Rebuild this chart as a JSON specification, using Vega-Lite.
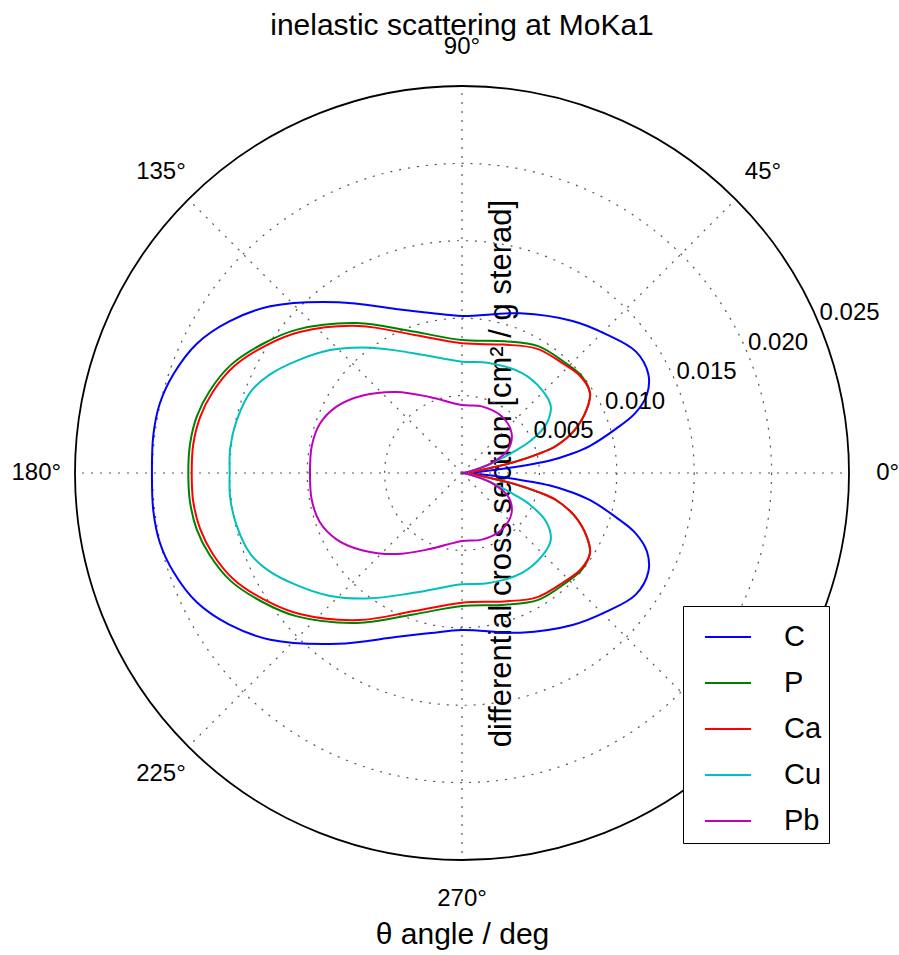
{
  "$schema": "https://vega.github.io/schema/vega-lite/v6.json",
  "width": 774,
  "height": 774,
  "autosize": "none",
  "padding": {"left": 75, "top": 86, "right": 50, "bottom": 95},
  "background": "white",
  "config": {
    "view": {"stroke": null},
    "font": "Liberation Sans",
    "text": {"font": "Liberation Sans", "color": "black"},
    "axis": {
      "domain": false, "ticks": false, "labels": false, "grid": false,
      "titleFontSize": 30, "titleFontWeight": "normal", "titleFont": "Liberation Sans", "titleColor": "black",
      "titleAlign": "center", "titleBaseline": "alphabetic"
    },
    "axisX": {"titleX": 387, "titleY": 83},
    "axisY": {"titleAngle": -90, "titleX": 435, "titleY": 387, "titleFontSize": 31}
  },
  "title": {
    "text": "inelastic scattering at MoKa1",
    "fontSize": 30,
    "fontWeight": "normal",
    "font": "Liberation Sans",
    "color": "black",
    "anchor": "middle",
    "baseline": "alphabetic",
    "offset": 0,
    "dy": 30
  },
  "datasets": {
    "curves": [
      {"el": "C", "t": 0, "r": 0}, {"el": "C", "t": 2, "r": 0.00032}, {"el": "C", "t": 4, "r": 0.00116}, {"el": "C", "t": 6, "r": 0.00291},
      {"el": "C", "t": 8, "r": 0.00568}, {"el": "C", "t": 10, "r": 0.00724}, {"el": "C", "t": 12, "r": 0.00846}, {"el": "C", "t": 16, "r": 0.01034},
      {"el": "C", "t": 19, "r": 0.01182}, {"el": "C", "t": 23, "r": 0.01298}, {"el": "C", "t": 28, "r": 0.01363}, {"el": "C", "t": 35, "r": 0.0137},
      {"el": "C", "t": 44, "r": 0.01292}, {"el": "C", "t": 54, "r": 0.01214}, {"el": "C", "t": 70, "r": 0.01098}, {"el": "C", "t": 90, "r": 0.01014},
      {"el": "C", "t": 101, "r": 0.01053}, {"el": "C", "t": 112, "r": 0.01143}, {"el": "C", "t": 126, "r": 0.01363}, {"el": "C", "t": 139, "r": 0.01641},
      {"el": "C", "t": 147, "r": 0.01796}, {"el": "C", "t": 154, "r": 0.01906}, {"el": "C", "t": 161, "r": 0.0197}, {"el": "C", "t": 167, "r": 0.02003},
      {"el": "C", "t": 173, "r": 0.02009}, {"el": "C", "t": 180, "r": 0.02003},
      {"el": "C", "t": 187, "r": 0.02009}, {"el": "C", "t": 193, "r": 0.02003}, {"el": "C", "t": 199, "r": 0.0197}, {"el": "C", "t": 206, "r": 0.01906},
      {"el": "C", "t": 213, "r": 0.01796}, {"el": "C", "t": 221, "r": 0.01641}, {"el": "C", "t": 234, "r": 0.01363}, {"el": "C", "t": 248, "r": 0.01143},
      {"el": "C", "t": 259, "r": 0.01053}, {"el": "C", "t": 270, "r": 0.01014}, {"el": "C", "t": 290, "r": 0.01098}, {"el": "C", "t": 306, "r": 0.01214},
      {"el": "C", "t": 316, "r": 0.01292}, {"el": "C", "t": 325, "r": 0.0137}, {"el": "C", "t": 332, "r": 0.01363}, {"el": "C", "t": 337, "r": 0.01298},
      {"el": "C", "t": 341, "r": 0.01182}, {"el": "C", "t": 344, "r": 0.01034}, {"el": "C", "t": 348, "r": 0.00846}, {"el": "C", "t": 350, "r": 0.00724},
      {"el": "C", "t": 352, "r": 0.00568}, {"el": "C", "t": 354, "r": 0.00291}, {"el": "C", "t": 356, "r": 0.00116}, {"el": "C", "t": 358, "r": 0.00032},
      {"el": "C", "t": 360, "r": 0},

      {"el": "P", "t": 0, "r": 0}, {"el": "P", "t": 4, "r": 0.00026}, {"el": "P", "t": 8, "r": 0.00097}, {"el": "P", "t": 10, "r": 0.00181},
      {"el": "P", "t": 12, "r": 0.00355}, {"el": "P", "t": 14, "r": 0.00504}, {"el": "P", "t": 16, "r": 0.00627}, {"el": "P", "t": 21, "r": 0.00782},
      {"el": "P", "t": 27, "r": 0.00904}, {"el": "P", "t": 32, "r": 0.00975}, {"el": "P", "t": 39, "r": 0.00995}, {"el": "P", "t": 47, "r": 0.00975},
      {"el": "P", "t": 59, "r": 0.00956}, {"el": "P", "t": 72, "r": 0.00895}, {"el": "P", "t": 90, "r": 0.00859}, {"el": "P", "t": 109, "r": 0.00966},
      {"el": "P", "t": 125, "r": 0.01182}, {"el": "P", "t": 139, "r": 0.01412}, {"el": "P", "t": 147, "r": 0.01533}, {"el": "P", "t": 155, "r": 0.01649},
      {"el": "P", "t": 162, "r": 0.01714}, {"el": "P", "t": 168, "r": 0.01752}, {"el": "P", "t": 174, "r": 0.01767}, {"el": "P", "t": 180, "r": 0.01768},
      {"el": "P", "t": 186, "r": 0.01767}, {"el": "P", "t": 192, "r": 0.01752}, {"el": "P", "t": 198, "r": 0.01714}, {"el": "P", "t": 205, "r": 0.01649},
      {"el": "P", "t": 213, "r": 0.01533}, {"el": "P", "t": 221, "r": 0.01412}, {"el": "P", "t": 235, "r": 0.01182}, {"el": "P", "t": 251, "r": 0.00966},
      {"el": "P", "t": 270, "r": 0.00859}, {"el": "P", "t": 288, "r": 0.00895}, {"el": "P", "t": 301, "r": 0.00956}, {"el": "P", "t": 313, "r": 0.00975},
      {"el": "P", "t": 321, "r": 0.00995}, {"el": "P", "t": 328, "r": 0.00975}, {"el": "P", "t": 333, "r": 0.00904}, {"el": "P", "t": 339, "r": 0.00782},
      {"el": "P", "t": 344, "r": 0.00627}, {"el": "P", "t": 346, "r": 0.00504}, {"el": "P", "t": 348, "r": 0.00355}, {"el": "P", "t": 350, "r": 0.00181},
      {"el": "P", "t": 352, "r": 0.00097}, {"el": "P", "t": 356, "r": 0.00026}, {"el": "P", "t": 360, "r": 0},

      {"el": "Ca", "t": 0, "r": 0}, {"el": "Ca", "t": 4, "r": 0.00026}, {"el": "Ca", "t": 8, "r": 0.00097}, {"el": "Ca", "t": 10, "r": 0.00181},
      {"el": "Ca", "t": 12, "r": 0.00362}, {"el": "Ca", "t": 14, "r": 0.0051}, {"el": "Ca", "t": 16, "r": 0.00633}, {"el": "Ca", "t": 21, "r": 0.00782},
      {"el": "Ca", "t": 27, "r": 0.00904}, {"el": "Ca", "t": 32, "r": 0.00975}, {"el": "Ca", "t": 39, "r": 0.00988}, {"el": "Ca", "t": 47, "r": 0.00963},
      {"el": "Ca", "t": 59, "r": 0.00937}, {"el": "Ca", "t": 72, "r": 0.00872}, {"el": "Ca", "t": 90, "r": 0.00838}, {"el": "Ca", "t": 109, "r": 0.00943},
      {"el": "Ca", "t": 125, "r": 0.0116}, {"el": "Ca", "t": 139, "r": 0.01389}, {"el": "Ca", "t": 147, "r": 0.01512}, {"el": "Ca", "t": 155, "r": 0.01627},
      {"el": "Ca", "t": 162, "r": 0.01693}, {"el": "Ca", "t": 168, "r": 0.0173}, {"el": "Ca", "t": 174, "r": 0.01746}, {"el": "Ca", "t": 180, "r": 0.01746},
      {"el": "Ca", "t": 186, "r": 0.01746}, {"el": "Ca", "t": 192, "r": 0.0173}, {"el": "Ca", "t": 198, "r": 0.01693}, {"el": "Ca", "t": 205, "r": 0.01627},
      {"el": "Ca", "t": 213, "r": 0.01512}, {"el": "Ca", "t": 221, "r": 0.01389}, {"el": "Ca", "t": 235, "r": 0.0116}, {"el": "Ca", "t": 251, "r": 0.00943},
      {"el": "Ca", "t": 270, "r": 0.00838}, {"el": "Ca", "t": 288, "r": 0.00872}, {"el": "Ca", "t": 301, "r": 0.00937}, {"el": "Ca", "t": 313, "r": 0.00963},
      {"el": "Ca", "t": 321, "r": 0.00988}, {"el": "Ca", "t": 328, "r": 0.00975}, {"el": "Ca", "t": 333, "r": 0.00904}, {"el": "Ca", "t": 339, "r": 0.00782},
      {"el": "Ca", "t": 344, "r": 0.00633}, {"el": "Ca", "t": 346, "r": 0.0051}, {"el": "Ca", "t": 348, "r": 0.00362}, {"el": "Ca", "t": 350, "r": 0.00181},
      {"el": "Ca", "t": 352, "r": 0.00097}, {"el": "Ca", "t": 356, "r": 0.00026}, {"el": "Ca", "t": 360, "r": 0},

      {"el": "Cu", "t": 0, "r": 0}, {"el": "Cu", "t": 5, "r": 0.00006}, {"el": "Cu", "t": 10, "r": 0.00032}, {"el": "Cu", "t": 14, "r": 0.00084},
      {"el": "Cu", "t": 17.5, "r": 0.00178}, {"el": "Cu", "t": 20, "r": 0.00258}, {"el": "Cu", "t": 22.5, "r": 0.00368}, {"el": "Cu", "t": 25, "r": 0.00484},
      {"el": "Cu", "t": 30, "r": 0.00627}, {"el": "Cu", "t": 37, "r": 0.00718}, {"el": "Cu", "t": 46, "r": 0.00745}, {"el": "Cu", "t": 59, "r": 0.00753},
      {"el": "Cu", "t": 77, "r": 0.00731}, {"el": "Cu", "t": 90, "r": 0.00719}, {"el": "Cu", "t": 112, "r": 0.00835}, {"el": "Cu", "t": 126, "r": 0.01001},
      {"el": "Cu", "t": 137, "r": 0.01165}, {"el": "Cu", "t": 146, "r": 0.01293}, {"el": "Cu", "t": 153, "r": 0.01397}, {"el": "Cu", "t": 159, "r": 0.01463},
      {"el": "Cu", "t": 167, "r": 0.01495}, {"el": "Cu", "t": 174, "r": 0.01506}, {"el": "Cu", "t": 180, "r": 0.01501},
      {"el": "Cu", "t": 186, "r": 0.01506}, {"el": "Cu", "t": 193, "r": 0.01495}, {"el": "Cu", "t": 201, "r": 0.01463}, {"el": "Cu", "t": 207, "r": 0.01397},
      {"el": "Cu", "t": 214, "r": 0.01293}, {"el": "Cu", "t": 223, "r": 0.01165}, {"el": "Cu", "t": 234, "r": 0.01001}, {"el": "Cu", "t": 248, "r": 0.00835},
      {"el": "Cu", "t": 270, "r": 0.00719}, {"el": "Cu", "t": 283, "r": 0.00731}, {"el": "Cu", "t": 301, "r": 0.00753}, {"el": "Cu", "t": 314, "r": 0.00745},
      {"el": "Cu", "t": 323, "r": 0.00718}, {"el": "Cu", "t": 330, "r": 0.00627}, {"el": "Cu", "t": 335, "r": 0.00484}, {"el": "Cu", "t": 337.5, "r": 0.00368},
      {"el": "Cu", "t": 340, "r": 0.00258}, {"el": "Cu", "t": 342.5, "r": 0.00178}, {"el": "Cu", "t": 346, "r": 0.00084}, {"el": "Cu", "t": 350, "r": 0.00032},
      {"el": "Cu", "t": 355, "r": 0.00006}, {"el": "Cu", "t": 360, "r": 0},

      {"el": "Pb", "t": 0, "r": 0}, {"el": "Pb", "t": 5, "r": 0.00006}, {"el": "Pb", "t": 10, "r": 0.00032}, {"el": "Pb", "t": 14, "r": 0.00089},
      {"el": "Pb", "t": 18.6, "r": 0.00202}, {"el": "Pb", "t": 27, "r": 0.00335}, {"el": "Pb", "t": 39, "r": 0.00412}, {"el": "Pb", "t": 55, "r": 0.00447},
      {"el": "Pb", "t": 73.5, "r": 0.00449}, {"el": "Pb", "t": 90, "r": 0.00439}, {"el": "Pb", "t": 113, "r": 0.00534}, {"el": "Pb", "t": 129, "r": 0.00674},
      {"el": "Pb", "t": 142, "r": 0.00813}, {"el": "Pb", "t": 152, "r": 0.00916}, {"el": "Pb", "t": 161, "r": 0.00972}, {"el": "Pb", "t": 170, "r": 0.00986},
      {"el": "Pb", "t": 180, "r": 0.00982},
      {"el": "Pb", "t": 190, "r": 0.00986}, {"el": "Pb", "t": 199, "r": 0.00972}, {"el": "Pb", "t": 208, "r": 0.00916}, {"el": "Pb", "t": 218, "r": 0.00813},
      {"el": "Pb", "t": 231, "r": 0.00674}, {"el": "Pb", "t": 247, "r": 0.00534}, {"el": "Pb", "t": 270, "r": 0.00439}, {"el": "Pb", "t": 286.5, "r": 0.00449},
      {"el": "Pb", "t": 305, "r": 0.00447}, {"el": "Pb", "t": 321, "r": 0.00412}, {"el": "Pb", "t": 333, "r": 0.00335}, {"el": "Pb", "t": 341.4, "r": 0.00202},
      {"el": "Pb", "t": 346, "r": 0.00089}, {"el": "Pb", "t": 350, "r": 0.00032}, {"el": "Pb", "t": 355, "r": 0.00006}, {"el": "Pb", "t": 360, "r": 0}
    ],
    "rings": [{"g": 0.005}, {"g": 0.01}, {"g": 0.015}, {"g": 0.02}],
    "spokes": [
      {"a": 0, "rr": 0}, {"a": 0, "rr": 0.025}, {"a": 45, "rr": 0}, {"a": 45, "rr": 0.025},
      {"a": 90, "rr": 0}, {"a": 90, "rr": 0.025}, {"a": 135, "rr": 0}, {"a": 135, "rr": 0.025},
      {"a": 180, "rr": 0}, {"a": 180, "rr": 0.025}, {"a": 225, "rr": 0}, {"a": 225, "rr": 0.025},
      {"a": 270, "rr": 0}, {"a": 270, "rr": 0.025}, {"a": 315, "rr": 0}, {"a": 315, "rr": 0.025}
    ],
    "angleLabels": [
      {"a": 0, "lab": "0°"}, {"a": 45, "lab": "45°"}, {"a": 90, "lab": "90°"}, {"a": 135, "lab": "135°"},
      {"a": 180, "lab": "180°"}, {"a": 225, "lab": "225°"}, {"a": 270, "lab": "270°"}, {"a": 315, "lab": "315°"}
    ],
    "radialLabels": [{"v": 0.005}, {"v": 0.01}, {"v": 0.015}, {"v": 0.02}, {"v": 0.025}]
  },
  "layer": [
    {
      "data": {"name": "rings"},
      "mark": {"type": "point", "shape": "circle", "filled": false, "stroke": "#555555", "strokeWidth": 1.2, "strokeDash": [2, 7], "opacity": 1},
      "encoding": {
        "x": {"datum": 0, "type": "quantitative"},
        "y": {"datum": 0, "type": "quantitative"},
        "size": {"field": "g", "type": "quantitative", "legend": null, "scale": {"type": "pow", "exponent": 2, "domain": [0, 0.025], "range": [0, 599076], "zero": true}}
      }
    },
    {
      "data": {"name": "spokes"},
      "transform": [
        {"calculate": "datum.rr * cos(datum.a * PI / 180)", "as": "gx"},
        {"calculate": "datum.rr * sin(datum.a * PI / 180)", "as": "gy"}
      ],
      "mark": {"type": "line", "stroke": "#555555", "strokeWidth": 1.2, "strokeDash": [2, 7]},
      "encoding": {
        "x": {"field": "gx", "type": "quantitative", "title": "θ angle / deg"},
        "y": {"field": "gy", "type": "quantitative", "title": "differential cross section [cm² / g sterad]"},
        "detail": {"field": "a", "type": "nominal"},
        "order": {"field": "rr", "type": "quantitative"}
      }
    },
    {
      "data": {"values": [{"g": 0.025}]},
      "mark": {"type": "point", "shape": "circle", "filled": false, "stroke": "black", "strokeWidth": 1.8, "opacity": 1},
      "encoding": {
        "x": {"datum": 0, "type": "quantitative"},
        "y": {"datum": 0, "type": "quantitative"},
        "size": {"field": "g", "type": "quantitative", "legend": null, "scale": {"type": "pow", "exponent": 2, "domain": [0, 0.025], "range": [0, 599076], "zero": true}}
      }
    },
    {
      "data": {"name": "curves"},
      "transform": [
        {"calculate": "datum.r * cos(datum.t * PI / 180)", "as": "px"},
        {"calculate": "datum.r * sin(datum.t * PI / 180)", "as": "py"}
      ],
      "mark": {"type": "line", "strokeWidth": 2, "interpolate": "catmull-rom"},
      "encoding": {
        "x": {"field": "px", "type": "quantitative", "scale": {"domain": [-0.025, 0.025], "nice": false, "zero": false}, "title": "θ angle / deg"},
        "y": {"field": "py", "type": "quantitative", "scale": {"domain": [-0.025, 0.025], "nice": false, "zero": false}, "title": "differential cross section [cm² / g sterad]"},
        "order": {"field": "t", "type": "quantitative"},
        "color": {
          "field": "el", "type": "nominal",
          "scale": {"domain": ["C", "P", "Ca", "Cu", "Pb"], "range": ["#0000ff", "#008000", "#ff0000", "#00bfbf", "#bf00bf"]},
          "legend": {
            "orient": "none", "legendX": 608, "legendY": 520, "title": null,
            "symbolType": "stroke", "symbolSize": 2116, "symbolStrokeWidth": 2, "symbolOffset": 14,
            "labelFontSize": 29, "labelFont": "Liberation Sans", "labelColor": "black", "labelOffset": 32,
            "rowPadding": 7, "padding": 7,
            "strokeColor": "black", "fillColor": "white"
          }
        }
      }
    },
    {
      "data": {"name": "radialLabels"},
      "transform": [
        {"calculate": "datum.v * cos(22.5 * PI / 180)", "as": "lx"},
        {"calculate": "datum.v * sin(22.5 * PI / 180)", "as": "ly"}
      ],
      "mark": {"type": "text", "align": "left", "baseline": "bottom", "fontSize": 24, "color": "black"},
      "encoding": {
        "x": {"field": "lx", "type": "quantitative", "title": "θ angle / deg"},
        "y": {"field": "ly", "type": "quantitative", "title": "differential cross section [cm² / g sterad]"},
        "text": {"field": "v", "type": "quantitative", "format": ".3f"}
      }
    },
    {
      "data": {"name": "angleLabels"},
      "transform": [
        {"calculate": "0.0275 * cos(datum.a * PI / 180)", "as": "lx"},
        {"calculate": "0.0275 * sin(datum.a * PI / 180)", "as": "ly"}
      ],
      "mark": {"type": "text", "align": "center", "baseline": "middle", "fontSize": 24, "color": "black"},
      "encoding": {
        "x": {"field": "lx", "type": "quantitative", "title": "θ angle / deg"},
        "y": {"field": "ly", "type": "quantitative", "title": "differential cross section [cm² / g sterad]"},
        "text": {"field": "lab", "type": "nominal"}
      }
    }
  ]
}
